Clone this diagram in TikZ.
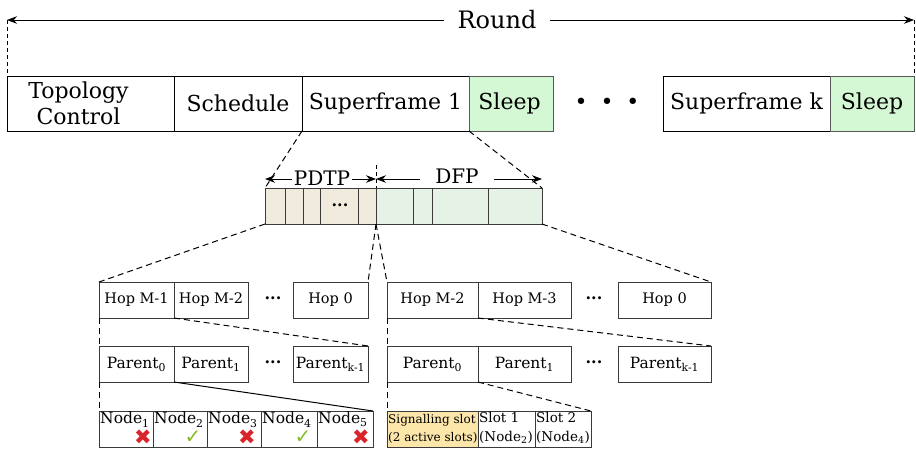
\documentclass[tikz,border=0pt]{standalone}
\usepackage{fontspec}
\setmainfont{DejaVu Serif}
\newfontfamily\symfont{DejaVu Sans}
\usetikzlibrary{arrows.meta}
\definecolor{sleepgreen}{HTML}{D4F7D4}
\definecolor{pdtpfill}{HTML}{F0EBDC}
\definecolor{dfpfill}{HTML}{E6F2E6}
\definecolor{sigfill}{HTML}{FCE6A9}
\definecolor{xred}{HTML}{D7262B}
\definecolor{okgreen}{HTML}{86BC25}
\definecolor{cellgray}{HTML}{3A3A3A}
\newcommand{\mkcell}[7]{%
  \node[#6, minimum width={#4-#2}, minimum height={#5-#3}] (#1) at ({(#2+#4)/2},{(#3+#5)/2}) {#7};}
\tikzset{
  base/.style={draw, inner sep=0pt, outer sep=0pt, line width=0.9pt},
  topcell/.style={base, draw=black, line width=0.9pt, font=\fontsize{22}{26}\selectfont, align=center},
  sleepcell/.style={topcell, fill=sleepgreen, draw=black!65},
  pcell/.style={base, draw=cellgray, fill=pdtpfill},
  dcell/.style={base, draw=cellgray, fill=dfpfill},
  hopcell/.style={base, draw=cellgray, font=\fontsize{14.5}{17}\selectfont},
  parcell/.style={base, draw=cellgray, font=\fontsize{15.5}{18}\selectfont},
  slotcell/.style={base, draw=cellgray},
  sigcell/.style={base, draw=cellgray, fill=sigfill},
  celltext/.style={anchor=north west, inner sep=0pt, font=\fontsize{15.5}{18}\selectfont},
  sigtext/.style={anchor=north west, inner sep=0pt, align=left, font=\fontsize{12}{18}\selectfont},
  slottext/.style={anchor=north west, inner sep=0pt, align=left, font=\fontsize{13.5}{19}\selectfont},
  dotstext/.style={font=\bfseries\fontsize{16}{18}\selectfont, inner sep=0pt},
  xmark/.style={text=xred, font=\symfont\fontsize{21}{21}\selectfont, inner sep=0pt},
  okmark/.style={text=okgreen, font=\symfont\fontsize{20}{20}\selectfont, inner sep=0pt},
  arr/.style={-{Stealth[length=10pt,width=7.5pt]}, line width=0.8pt},
  dsh/.style={dash pattern=on 6pt off 4pt, line width=1pt},
  dshthin/.style={dash pattern=on 4pt off 3pt, line width=0.7pt},
  solidln/.style={line width=1pt},
}
\begin{document}
\begin{tikzpicture}[x=1pt,y=-1pt]
\useasboundingbox (0,0) rectangle (916,448);

% Round
\coordinate (rl) at (7,20);
\coordinate (rr) at (914,20);
\node[font=\fontsize{24}{28}\selectfont, inner xsep=13pt, inner ysep=0pt] (round) at (497,20) {Round};
\draw[arr] (round.west) -- (rl);
\draw[arr] (round.east) -- (rr);

% top row
\mkcell{tc}{7}{76}{174}{131}{topcell}{Topology\hspace*{24pt}\\Control\hspace*{24pt}}
\mkcell{sch}{174}{76}{302}{131}{topcell}{Schedule}
\mkcell{sfa}{302}{76}{469}{131}{topcell}{Superframe 1}
\mkcell{sla}{469}{76}{553}{131}{sleepcell}{Sleep\hspace*{3pt}}
\node[font=\symfont\fontsize{22}{22}\selectfont, inner sep=0pt] (topdots) at (607,104) {•\hspace{13pt}•\hspace{13pt}•};
\mkcell{sfk}{663}{76}{830}{131}{topcell}{Superframe k}
\mkcell{slk}{830}{76}{914}{131}{sleepcell}{Sleep}

\draw[dshthin] (rl) -- (tc.north west);
\draw[dshthin] (rr) -- (slk.north east);

% middle bar
\mkcell{pa}{265}{188}{285}{224}{pcell}{}
\mkcell{pb}{285}{188}{303}{224}{pcell}{}
\mkcell{pc}{303}{188}{320}{224}{pcell}{}
\mkcell{pd}{320}{188}{358}{224}{pcell}{}
\node[dotstext] (pdots) at (340,205) {...};
\mkcell{pe}{358}{188}{376}{224}{pcell}{}
\mkcell{da}{376}{188}{413}{224}{dcell}{}
\mkcell{db}{413}{188}{432}{224}{dcell}{}
\mkcell{dc}{432}{188}{488}{224}{dcell}{}
\mkcell{dd}{488}{188}{542}{224}{dcell}{}

\draw[dsh] (sfa.south west) -- (pa.north west);
\draw[dsh] (sfa.south east) -- (dd.north east);

% PDTP / DFP arrows
\coordinate (pl) at (265,179);
\coordinate (pr) at (376,179);
\coordinate (dl) at (376,179);
\coordinate (dr) at (542,179);
\node[font=\fontsize{20}{24}\selectfont, inner xsep=2pt, inner ysep=0pt] (pdtp) at (322,178) {PDTP};
\node[font=\fontsize{20}{24}\selectfont, inner xsep=15pt, inner ysep=0pt] (dfp) at (457,176) {DFP};
\draw[arr] (pdtp.west |- pl) -- (pl);
\draw[arr] (pdtp.east |- pl) -- (pr);
\draw[arr] (dfp.west |- dl) -- (dl);
\draw[arr] (dfp.east |- dl) -- (dr);
\coordinate (tick) at (376,165);
\draw[dshthin] (tick) -- (pe.north east);

% hop rows
\mkcell{hla}{99}{282}{174}{318}{hopcell}{Hop M-1}
\mkcell{hlb}{174}{282}{248}{318}{hopcell}{Hop M-2}
\node[dotstext] (hldots) at (273,298) {...};
\mkcell{hlz}{293}{282}{368}{318}{hopcell}{Hop 0}
\mkcell{hra}{387}{282}{478}{318}{hopcell}{Hop M-2}
\mkcell{hrb}{478}{282}{571}{318}{hopcell}{Hop M-3}
\node[dotstext] (hrdots) at (594,298) {...};
\mkcell{hrz}{618}{282}{711}{318}{hopcell}{Hop 0}

\draw[dsh] (pa.south west) -- (hla.north west);
\draw[dsh] (pe.south east) -- (hlz.north east);
\draw[dsh] (da.south west) -- (hra.north west);
\draw[dsh] (dd.south east) -- (hrz.north east);

% parent rows
\mkcell{pla}{99}{346}{174}{382}{parcell}{Parent\textsubscript{0}}
\mkcell{plb}{174}{346}{248}{382}{parcell}{Parent\textsubscript{1}}
\node[dotstext] (pldots) at (273,362) {...};
\mkcell{plk}{293}{346}{368}{382}{parcell}{Parent\textsubscript{k-1}}
\mkcell{pra}{387}{346}{478}{382}{parcell}{Parent\textsubscript{0}}
\mkcell{prb}{478}{346}{571}{382}{parcell}{Parent\textsubscript{1}}
\node[dotstext] (prdots) at (594,362) {...};
\mkcell{prk}{618}{346}{711}{382}{parcell}{Parent\textsubscript{k-1}}

\draw[dsh] (hla.south west) -- (pla.north west);
\draw[dsh] (hlb.south west) -- (plk.north east);
\draw[dsh] (hra.south west) -- (pra.north west);
\draw[dsh] (hrb.south west) -- (prk.north east);

% node row (left)
\mkcell{na}{99}{411}{153}{447}{slotcell}{}
\mkcell{nb}{153}{411}{207}{447}{slotcell}{}
\mkcell{nc}{207}{411}{261}{447}{slotcell}{}
\mkcell{nd}{261}{411}{317}{447}{slotcell}{}
\mkcell{ne}{317}{411}{373}{447}{slotcell}{}
\node[celltext] (nat) at ([shift={(1,1)}]na.north west) {Node\textsubscript{1}};
\node[celltext] (nbt) at ([shift={(1,1)}]nb.north west) {Node\textsubscript{2}};
\node[celltext] (nct) at ([shift={(1,1)}]nc.north west) {Node\textsubscript{3}};
\node[celltext] (ndt) at ([shift={(1,1)}]nd.north west) {Node\textsubscript{4}};
\node[celltext] (net) at ([shift={(1,1)}]ne.north west) {Node\textsubscript{5}};
\node[xmark] (nam) at ([shift={(-10,-10)}]na.south east) {✖};
\node[okmark] (nbm) at ([shift={(-14,-10)}]nb.south east) {✓};
\node[xmark] (ncm) at ([shift={(-14,-10)}]nc.south east) {✖};
\node[okmark] (ndm) at ([shift={(-14,-10)}]nd.south east) {✓};
\node[xmark] (nem) at ([shift={(-12,-10)}]ne.south east) {✖};

\draw[dsh] (pla.south west) -- (na.north west);
\draw[solidln] (plb.south west) -- (ne.north east);

% slot row (right)
\mkcell{sa}{387}{411}{478}{447}{sigcell}{}
\mkcell{sb}{478}{411}{535}{447}{slotcell}{}
\mkcell{sc}{535}{411}{591}{447}{slotcell}{}
\node[sigtext] (sat) at ([shift={(1,3)}]sa.north west) {Signalling slot\\(2 active slots)};
\node[slottext] (sbt) at ([shift={(1,1)}]sb.north west) {Slot 1\\(Node\textsubscript{2})};
\node[slottext] (sct) at ([shift={(1,1)}]sc.north west) {Slot 2\\(Node\textsubscript{4})};

\draw[dsh] (pra.south west) -- (sa.north west);
\draw[dsh] (prb.south west) -- (sc.north east);
\end{tikzpicture}
\end{document}
